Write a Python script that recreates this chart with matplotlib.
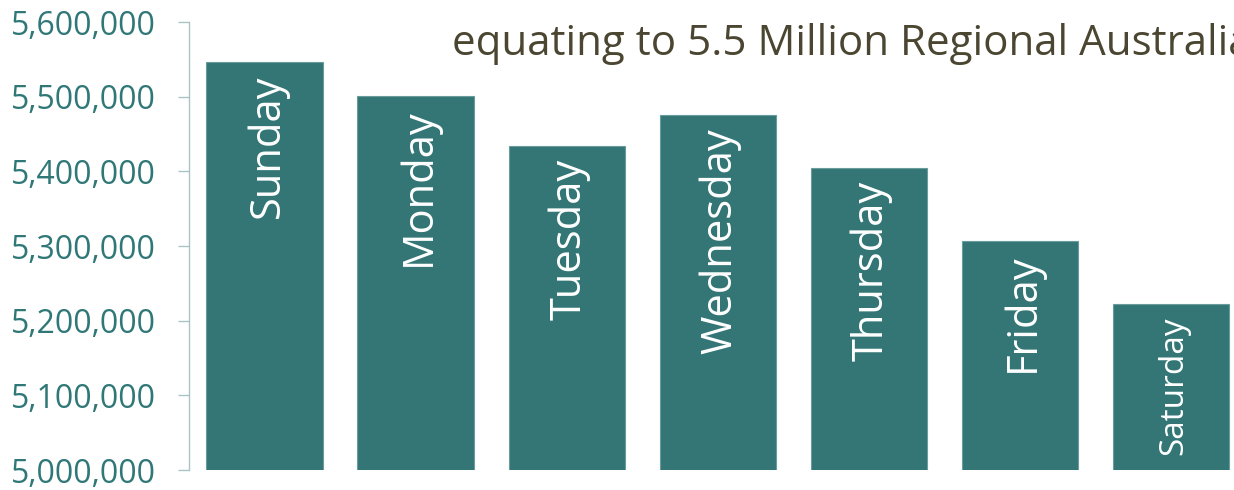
import matplotlib
matplotlib.use("Agg")
import matplotlib.pyplot as plt
from matplotlib.ticker import FuncFormatter

# Data =====================================================================
days = ["Sunday", "Monday", "Tuesday", "Wednesday", "Thursday", "Friday", "Saturday"]
audience = [5546000, 5501000, 5434000, 5475000, 5404000, 5307000, 5222000]
label_sizes = [30, 30, 30, 30, 30, 30, 24]
title_text = "equating to 5.5 Million Regional Australians"

BAR_COLOR = "#347676"
EDGE_COLOR = "#6a9c9c"
TICK_COLOR = "#2f7877"
SPINE_COLOR = "#aac3c5"
TITLE_COLOR = "#4b4631"

plt.rcParams["font.family"] = ["Open Sans", "DejaVu Sans"]

fig = plt.figure(figsize=(12.34, 4.9), dpi=100)
# axes runs past the right edge, like the cropped original
ax = fig.add_axes([189 / 1234, 20 / 490, 1057.5 / 1234, 448 / 490])

x = range(len(days))
ax.bar(x, audience, width=0.77, color=BAR_COLOR, edgecolor=EDGE_COLOR, linewidth=0.8)

for i, (day, val, size) in enumerate(zip(days, audience, label_sizes)):
    ax.annotate(day, xy=(i, val), xytext=(2, -9), textcoords="offset points",
                rotation=90, ha="center", va="top", color="white", fontsize=size)

ax.set_xlim(-0.5, 6.5)
ax.set_ylim(5000000, 5600000)
ax.set_yticks(range(5000000, 5600001, 100000))
ax.yaxis.set_major_formatter(FuncFormatter(lambda v, p: f"{int(v):,}"))
ax.tick_params(axis="y", colors=SPINE_COLOR, labelcolor=TICK_COLOR, labelsize=23,
               length=7.9, width=1, pad=16)
ax.set_xticks([])

for side in ["top", "right", "bottom"]:
    ax.spines[side].set_visible(False)
ax.spines["left"].set_color(SPINE_COLOR)
ax.spines["left"].set_linewidth(1)

# title runs off the right edge in the original crop
fig.text(452 / 1234, 1 - 55 / 490, title_text, color=TITLE_COLOR, fontsize=30.3,
         ha="left", va="baseline")

fig.savefig("out.png", dpi=100)
